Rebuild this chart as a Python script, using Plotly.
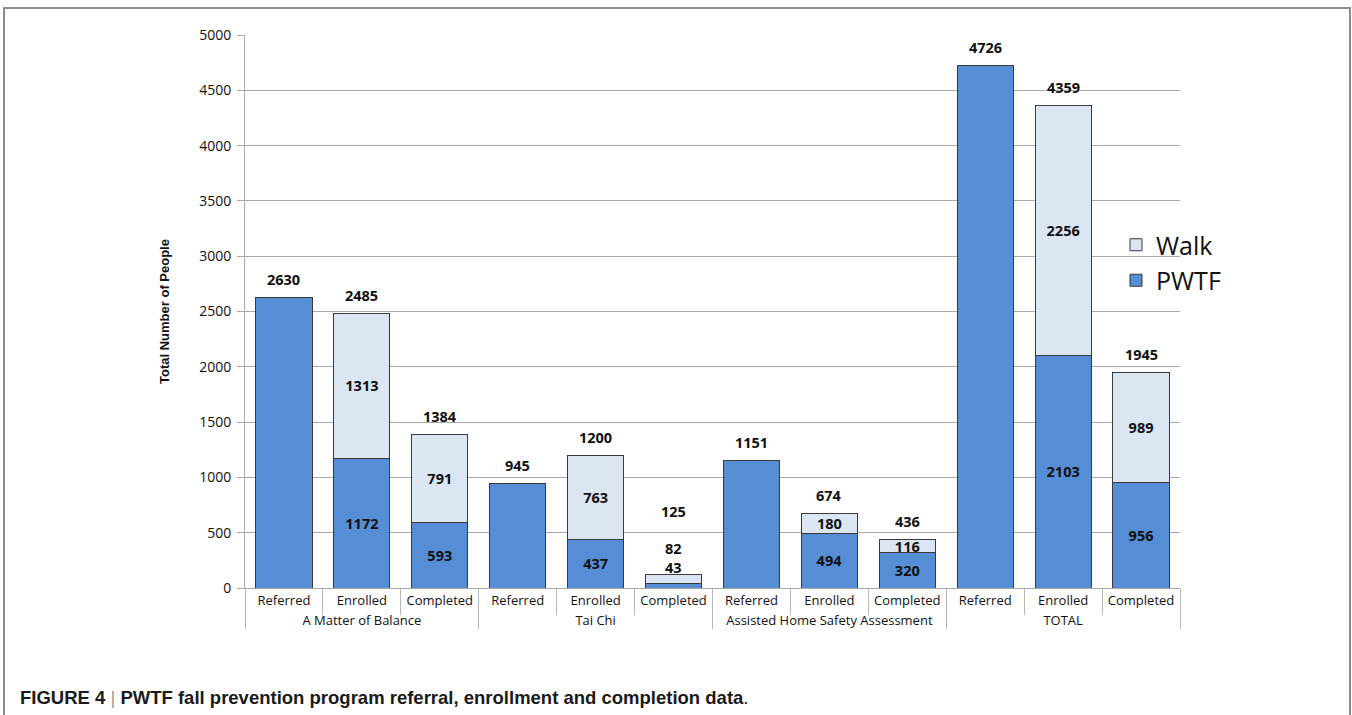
import plotly.graph_objects as go

groups = ["A Matter of Balance"] * 3 + ["Tai Chi"] * 3 + ["Assisted Home Safety Assessment"] * 3 + ["TOTAL"] * 3
stages = ["Referred", "Enrolled", "Completed"] * 4
pwtf = [2630, 1172, 593, 945, 437, 43, 1151, 494, 320, 4726, 2103, 956]
walk = [0, 1313, 791, 0, 763, 82, 0, 180, 116, 0, 2256, 989]
totals = [2630, 2485, 1384, 945, 1200, 125, 1151, 674, 436, 4726, 4359, 1945]

BLUE = "#558ED5"
LIGHT = "#DCE6F2"
EDGE = "#3a3a3a"
LABEL_FONT = dict(family="Open Sans", size=14.5, color="#111111")

# inside labels: skip referred (no stacked split) and tiny Tai Chi completed
small_idx = {5}
pwtf_text = ["" if (s == "Referred" or i in small_idx) else f"<b>{v}</b>" for i, (s, v) in enumerate(zip(stages, pwtf))]
walk_text = ["" if (w == 0 or i in small_idx) else f"<b>{w}</b>" for i, w in enumerate(walk)]

fig = go.Figure()
fig.add_trace(go.Bar(
    x=[groups, stages], y=pwtf, name="PWTF",
    marker=dict(color=BLUE, line=dict(color=EDGE, width=1)),
    text=pwtf_text, textposition="inside", insidetextanchor="middle",
    textangle=0, textfont=LABEL_FONT, hoverinfo="y",
))
fig.add_trace(go.Bar(
    x=[groups, stages], y=walk, name="Walk",
    marker=dict(color=LIGHT, line=dict(color=EDGE, width=1)),
    text=walk_text, textposition="inside", insidetextanchor="middle",
    textangle=0, textfont=LABEL_FONT, hoverinfo="y",
))

annotations = []
for i, t in enumerate(totals):
    shift = 63 if i in small_idx else 18
    annotations.append(dict(x=i, y=t, xref="x", yref="y", text=f"<b>{t}</b>",
                            showarrow=False, yshift=shift, font=LABEL_FONT))
for i in small_idx:
    annotations.append(dict(x=i, y=totals[i], xref="x", yref="y", text=f"<b>{pwtf[i]}</b>",
                            showarrow=False, yshift=7, font=LABEL_FONT))
    annotations.append(dict(x=i, y=totals[i], xref="x", yref="y", text=f"<b>{walk[i]}</b>",
                            showarrow=False, yshift=26, font=LABEL_FONT))

L, R, T, B = 245, 172, 35, 127
W, H = 1352, 715
pw, ph = W - L - R, H - T - B


def px_x(p):
    return (p - L) / pw


def px_y(p):
    return (H - B - p) / ph


annotations.append(dict(
    xref="paper", yref="paper", x=px_x(18), y=px_y(697), xanchor="left", yanchor="middle",
    showarrow=False,
    text="<b>FIGURE 4</b> <span style='color:#9a9a9a'>|</span> <b>PWTF fall prevention program referral, enrollment and completion data</b>.",
    font=dict(family="Liberation Sans", size=18.5, color="#1a1a1a"),
))

shapes = [dict(type="path", xref="paper", yref="paper",
               path=f"M {px_x(4)} {px_y(740)} L {px_x(4)} {px_y(8)} L {px_x(1350)} {px_y(8)} L {px_x(1350)} {px_y(740)}",
               line=dict(color="#8c8c8c", width=2), layer="above")]

fig.update_layout(
    barmode="stack", bargap=0.28,
    width=W, height=H,
    margin=dict(l=L, r=R, t=T, b=B, autoexpand=False),
    plot_bgcolor="white", paper_bgcolor="white",
    font=dict(family="Open Sans", color="#222222"),
    uniformtext=dict(minsize=14, mode="show"),
    legend=dict(x=px_x(1116), y=px_y(222), xanchor="left", yanchor="top",
                traceorder="reversed", font=dict(family="Open Sans", size=25, color="#111111"),
                bgcolor="rgba(0,0,0,0)", itemwidth=30),
    annotations=annotations, shapes=shapes,
    showlegend=True,
)
fig.update_yaxes(
    range=[0, 5000], dtick=500, showgrid=True, gridcolor="#a8a8a8", gridwidth=1,
    showline=True, linecolor="#a8a8a8", ticks="outside", ticklen=7, tickcolor="#a8a8a8",
    ticklabelstandoff=3,
    tickfont=dict(family="Open Sans", size=14, color="#111111"), zeroline=False,
    title=dict(text="<b>Total Number of People</b>", standoff=26,
               font=dict(family="Liberation Sans", size=13, color="#111111")),
)
fig.update_xaxes(
    showline=True, linecolor="#a8a8a8", ticks="outside", tickson="boundaries",
    ticklen=26, tickcolor="#b8b8b8", showdividers=True, dividercolor="#b8b8b8", dividerwidth=1,
    tickangle=0,
    tickfont=dict(family="Open Sans", size=13, color="#111111"),
)

fig.write_html("out.html")
